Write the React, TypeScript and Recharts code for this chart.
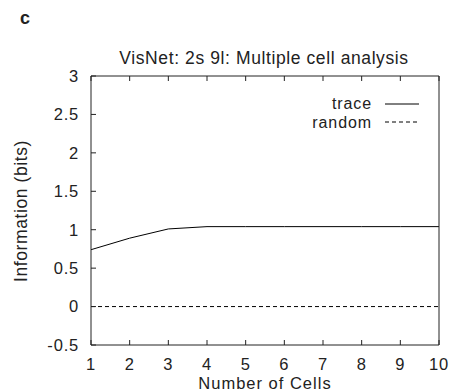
import React from 'react';
import { LineChart, Line, XAxis, YAxis } from 'recharts';

const cells = [1, 2, 3, 4, 5, 6, 7, 8, 9, 10];
const trace = [0.74, 0.89, 1.01, 1.04, 1.04, 1.04, 1.04, 1.04, 1.04, 1.04];
const random = [0, 0, 0, 0, 0, 0, 0, 0, 0, 0];
const yTicks = [-0.5, 0, 0.5, 1, 1.5, 2, 2.5, 3];

const data = cells.map((c, i) => ({ cells: c, trace: trace[i], random: random[i] }));

const font = '"Liberation Sans", Arial, sans-serif';
const ink = '#222';
// gnuplot's Helvetica is a bit wider than Liberation, so add some spacing
const tickStyle = { fontSize: 16.5, fill: ink, fontFamily: font, letterSpacing: 0.8 };

export default function App() {
  return (
    <div style={{ position: 'absolute', left: 0, top: 0, width: 458, height: 392, background: '#fff' }}>
      <LineChart width={458} height={392} data={data} margin={{ top: 75, right: 18, left: 41, bottom: 17 }}>
        <XAxis dataKey="cells" type="number" domain={[1, 10]} ticks={cells} xAxisId="b"
          height={30} tickSize={-5} tickMargin={18} stroke={ink} tick={tickStyle} />
        <XAxis dataKey="cells" type="number" domain={[1, 10]} ticks={cells} xAxisId="t" orientation="top"
          height={1} tickSize={-5} stroke={ink} tickFormatter={() => ''} />
        <YAxis type="number" domain={[-0.5, 3]} ticks={yTicks} yAxisId="l" width={50}
          tickSize={-5} tickMargin={17} stroke={ink} tick={tickStyle} />
        <YAxis type="number" domain={[-0.5, 3]} ticks={yTicks} yAxisId="r" orientation="right"
          width={1} tickSize={-5} stroke={ink} tickFormatter={() => ''} />
        <Line xAxisId="b" yAxisId="l" dataKey="trace" stroke="#000" strokeWidth={1} dot={false} isAnimationActive={false} />
        <Line xAxisId="b" yAxisId="l" dataKey="random" stroke="#000" strokeWidth={1} strokeDasharray="4 3" dot={false} isAnimationActive={false} />
      </LineChart>
      <svg width={458} height={392} style={{ position: 'absolute', left: 0, top: 0, pointerEvents: 'none' }}
        fontFamily={font} fill={ink} fontSize={17.5} letterSpacing={0.6}>
        <text x={20} y={24} fontSize={18} fontWeight="bold" letterSpacing={0}>c</text>
        <text x={264} y={64} textAnchor="middle">VisNet: 2s 9l: Multiple cell analysis</text>
        <text x={265} y={388.5} fontSize={16.5} letterSpacing={1} textAnchor="middle">Number of Cells</text>
        <text transform="translate(27,211) rotate(-90)" textAnchor="middle">Information (bits)</text>
        <text x={372} y={109} fontSize={16} letterSpacing={0.9} textAnchor="end">trace</text>
        <line x1={385} x2={419} y1={104} y2={104} stroke="#000" strokeWidth={1} />
        <text x={372} y={128} fontSize={16} letterSpacing={0.9} textAnchor="end">random</text>
        <line x1={385} x2={419} y1={122} y2={122} stroke="#000" strokeWidth={1} strokeDasharray="4 3" />
      </svg>
    </div>
  );
}
